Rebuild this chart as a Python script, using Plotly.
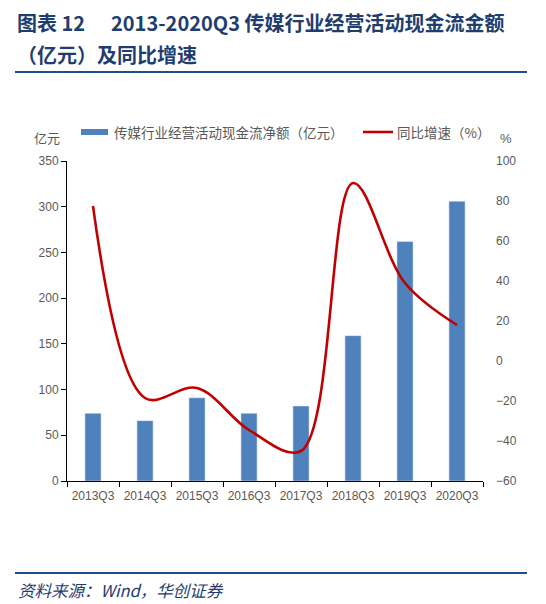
import plotly.graph_objects as go

categories = ["2013Q3", "2014Q3", "2015Q3", "2016Q3", "2017Q3", "2018Q3", "2019Q3", "2020Q3"]
cash_flow = [74, 66, 91, 74, 82, 159, 262, 306]
yoy_growth = [77.5, -18.5, -13.5, -34.5, -45, 89, 39, 18]

W, H = 546, 604
L, R, T, B = 67, 483, 161, 481

def px(x):
    return (x - L) / (R - L)

def py(y):
    return (B - y) / (B - T)

fig = go.Figure()
fig.add_trace(go.Bar(
    x=categories, y=cash_flow, name="传媒行业经营活动现金流净额（亿元）",
    marker_color="#4F81BD", width=0.31, yaxis="y",
))
fig.add_trace(go.Scatter(
    x=categories, y=yoy_growth, name="同比增速（%）", mode="lines",
    line=dict(color="#C00000", width=2.6, shape="spline", smoothing=1.0), yaxis="y2",
))

tickfont = dict(family="Liberation Sans, Arial", size=12, color="#595959")
fig.update_layout(
    width=W, height=H,
    margin=dict(l=L, r=W - R, t=T, b=H - B),
    plot_bgcolor="white", paper_bgcolor="white",
    showlegend=False,
    bargap=0.5,
    xaxis=dict(
        showline=True, linecolor="black", linewidth=1,
        ticks="outside", tickson="boundaries", ticklen=5, tickcolor="black",
        tickfont=tickfont, showgrid=False, tickangle=0, ticklabelstandoff=4,
    ),
    yaxis=dict(
        range=[0, 350], dtick=50, showline=True, linecolor="black", linewidth=1,
        ticks="outside", ticklen=5, tickcolor="black", showgrid=False,
        tickfont=tickfont, zeroline=False,
    ),
    yaxis2=dict(
        range=[-60, 100], dtick=20, overlaying="y", side="right",
        showline=False, showgrid=False, zeroline=False, ticks="",
        tickfont=tickfont, ticklabelstandoff=12,
    ),
)

title_font = dict(family="Noto Sans CJK SC", size=20, color="#1F3D6E")
ann = []
ann.append(dict(text="<b>图表 12</b>",
                x=px(15), y=py(22), xanchor="left", yanchor="middle", showarrow=False,
                xref="paper", yref="paper", font=title_font))
ann.append(dict(text="<b>2013-2020Q3 传媒行业经营活动现金流金额</b>",
                x=px(109), y=py(22), xanchor="left", yanchor="middle", showarrow=False,
                xref="paper", yref="paper", font=title_font))
ann.append(dict(text="<b>（亿元）及同比增速</b>",
                x=px(15), y=py(55), xanchor="left", yanchor="middle", showarrow=False,
                xref="paper", yref="paper", font=title_font))
ann.append(dict(text="亿元", x=px(32), y=py(137), xanchor="left", yanchor="middle",
                showarrow=False, xref="paper", yref="paper",
                font=dict(family="Noto Sans CJK SC", size=13, color="#595959")))
ann.append(dict(text="%", x=px(498), y=py(138), xanchor="left", yanchor="middle",
                showarrow=False, xref="paper", yref="paper",
                font=dict(family="Liberation Sans", size=13, color="#595959")))
ann.append(dict(text="传媒行业经营活动现金流净额（亿元）", x=px(112), y=py(132), xanchor="left",
                yanchor="middle", showarrow=False, xref="paper", yref="paper",
                font=dict(family="Noto Sans CJK SC", size=13.5, color="#595959")))
ann.append(dict(text="同比增速（%）", x=px(395), y=py(132), xanchor="left",
                yanchor="middle", showarrow=False, xref="paper", yref="paper",
                font=dict(family="Noto Sans CJK SC", size=13.5, color="#595959")))
ann.append(dict(text="<i>资料来源：Wind，华创证券</i>", x=px(16), y=py(590), xanchor="left",
                yanchor="middle", showarrow=False, xref="paper", yref="paper",
                font=dict(family="Noto Sans CJK SC", size=16.5, color="#1F3D6E")))

shapes = [
    dict(type="line", xref="paper", yref="paper", x0=px(15), x1=px(527), y0=py(72), y1=py(72),
         line=dict(color="#1F4E8C", width=2)),
    dict(type="line", xref="paper", yref="paper", x0=px(15), x1=px(527), y0=py(573), y1=py(573),
         line=dict(color="#1F4E8C", width=2)),
    dict(type="rect", xref="paper", yref="paper", x0=px(81), x1=px(108), y0=py(129), y1=py(135),
         fillcolor="#4F81BD", line=dict(width=0)),
    dict(type="line", xref="paper", yref="paper", x0=px(363), x1=px(393), y0=py(132), y1=py(132),
         line=dict(color="#C00000", width=2.6)),
]
fig.update_layout(annotations=ann, shapes=shapes)

fig.write_html("out.html")
